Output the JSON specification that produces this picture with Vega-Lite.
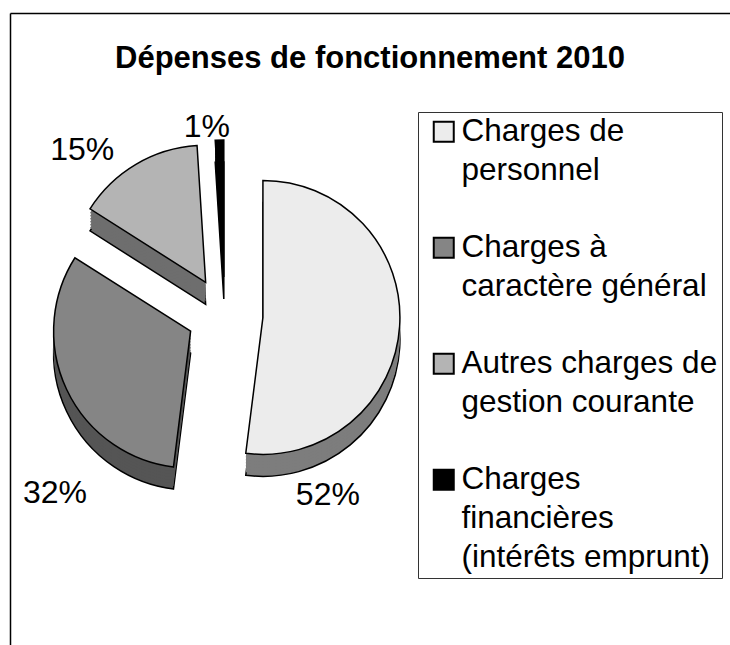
{
  "$schema": "https://vega.github.io/schema/vega-lite/v6.json",
  "width": 430,
  "height": 604,
  "autosize": {"type": "none"},
  "padding": {"left": 10, "top": 13, "right": 290, "bottom": 28},
  "background": "white",
  "title": {
    "text": "Dépenses de fonctionnement 2010",
    "font": "Liberation Sans",
    "fontSize": 31,
    "fontWeight": "bold",
    "color": "black",
    "anchor": "middle",
    "frame": "bounds",
    "baseline": "alphabetic",
    "offset": -86
  },
  "config": {
    "view": {"stroke": null},
    "font": "Liberation Sans"
  },
  "data": {
    "values": [
      {"poste": "Charges de personnel", "part": 52},
      {"poste": "Charges à caractère général", "part": 32},
      {"poste": "Autres charges de gestion courante", "part": 15},
      {"poste": "Charges financières (intérêts emprunt)", "part": 1}
    ]
  },
  "transform": [
    {"stack": "part", "groupby": [], "sort": [{"field": "part", "order": "descending"}], "as": ["p0", "p1"]},
    {"calculate": "(datum.p0 + datum.p1) / 2", "as": "mid"},
    {"calculate": "38 * sin(datum.mid * PI / 50)", "as": "dx"},
    {"calculate": "-38 * cos(datum.mid * PI / 50)", "as": "dy"},
    {"calculate": "datum.part + '%'", "as": "lbl"},
    {"calculate": "'côté ' + datum.poste", "as": "cote"}
  ],
  "layer": [
    {
      "mark": {"type": "point", "opacity": 0},
      "encoding": {
        "x": {"field": "part", "type": "quantitative", "scale": {"domain": [0, 100], "range": [0, 720]},
          "axis": {"orient": "top", "labels": false, "ticks": false, "grid": false, "title": null, "domainColor": "black", "domainWidth": 1.5}},
        "y": {"field": "part", "type": "quantitative", "scale": {"domain": [0, 100], "range": [0, 632]},
          "axis": {"orient": "left", "labels": false, "ticks": false, "grid": false, "title": null, "domainColor": "black", "domainWidth": 1.5}}
      }
    },
    {
      "transform": [{"calculate": "datum.dy + 22", "as": "dz"}],
      "mark": {"type": "arc", "outerRadius": 137, "stroke": "black", "strokeWidth": 1.5},
      "encoding": {
        "theta": {"field": "p0", "type": "quantitative", "scale": {"domain": [0, 100]}, "stack": null},
        "theta2": {"field": "p1"},
        "fill": {"field": "cote", "type": "nominal", "legend": null,
          "scale": {"domain": ["côté Charges de personnel", "côté Charges à caractère général", "côté Autres charges de gestion courante", "côté Charges financières (intérêts emprunt)"],
            "range": ["#7d7d7d", "#555555", "#6e6e6e", "#000000"]}},
        "xOffset": {"field": "dx", "type": "quantitative", "scale": null},
        "yOffset": {"field": "dz", "type": "quantitative", "scale": null}
      }
    },
    {
      "transform": [{"calculate": "datum.dy + 19", "as": "dz"}],
      "mark": {"type": "arc", "outerRadius": 137},
      "encoding": {
        "theta": {"field": "p0", "type": "quantitative", "scale": {"domain": [0, 100]}, "stack": null},
        "theta2": {"field": "p1"},
        "fill": {"field": "cote", "type": "nominal", "legend": null},
        "xOffset": {"field": "dx", "type": "quantitative", "scale": null},
        "yOffset": {"field": "dz", "type": "quantitative", "scale": null}
      }
    },
    {
      "transform": [{"calculate": "datum.dy + 16", "as": "dz"}],
      "mark": {"type": "arc", "outerRadius": 137},
      "encoding": {
        "theta": {"field": "p0", "type": "quantitative", "scale": {"domain": [0, 100]}, "stack": null},
        "theta2": {"field": "p1"},
        "fill": {"field": "cote", "type": "nominal", "legend": null},
        "xOffset": {"field": "dx", "type": "quantitative", "scale": null},
        "yOffset": {"field": "dz", "type": "quantitative", "scale": null}
      }
    },
    {
      "transform": [{"calculate": "datum.dy + 13", "as": "dz"}],
      "mark": {"type": "arc", "outerRadius": 137},
      "encoding": {
        "theta": {"field": "p0", "type": "quantitative", "scale": {"domain": [0, 100]}, "stack": null},
        "theta2": {"field": "p1"},
        "fill": {"field": "cote", "type": "nominal", "legend": null},
        "xOffset": {"field": "dx", "type": "quantitative", "scale": null},
        "yOffset": {"field": "dz", "type": "quantitative", "scale": null}
      }
    },
    {
      "transform": [{"calculate": "datum.dy + 10", "as": "dz"}],
      "mark": {"type": "arc", "outerRadius": 137},
      "encoding": {
        "theta": {"field": "p0", "type": "quantitative", "scale": {"domain": [0, 100]}, "stack": null},
        "theta2": {"field": "p1"},
        "fill": {"field": "cote", "type": "nominal", "legend": null},
        "xOffset": {"field": "dx", "type": "quantitative", "scale": null},
        "yOffset": {"field": "dz", "type": "quantitative", "scale": null}
      }
    },
    {
      "transform": [{"calculate": "datum.dy + 7", "as": "dz"}],
      "mark": {"type": "arc", "outerRadius": 137},
      "encoding": {
        "theta": {"field": "p0", "type": "quantitative", "scale": {"domain": [0, 100]}, "stack": null},
        "theta2": {"field": "p1"},
        "fill": {"field": "cote", "type": "nominal", "legend": null},
        "xOffset": {"field": "dx", "type": "quantitative", "scale": null},
        "yOffset": {"field": "dz", "type": "quantitative", "scale": null}
      }
    },
    {
      "transform": [{"calculate": "datum.dy + 4", "as": "dz"}],
      "mark": {"type": "arc", "outerRadius": 137},
      "encoding": {
        "theta": {"field": "p0", "type": "quantitative", "scale": {"domain": [0, 100]}, "stack": null},
        "theta2": {"field": "p1"},
        "fill": {"field": "cote", "type": "nominal", "legend": null},
        "xOffset": {"field": "dx", "type": "quantitative", "scale": null},
        "yOffset": {"field": "dz", "type": "quantitative", "scale": null}
      }
    },
    {
      "mark": {"type": "arc", "outerRadius": 137, "stroke": "black", "strokeWidth": 1.5},
      "encoding": {
        "theta": {"field": "p0", "type": "quantitative", "scale": {"domain": [0, 100]}, "stack": null},
        "theta2": {"field": "p1"},
        "color": {"field": "poste", "type": "nominal",
          "scale": {"domain": ["Charges de personnel", "Charges à caractère général", "Autres charges de gestion courante", "Charges financières (intérêts emprunt)"],
            "range": ["#ececec", "#858585", "#b4b4b4", "#000000"]},
          "legend": {
            "orient": "none", "legendX": 408, "legendY": 99,
            "title": null,
            "strokeColor": "#333333", "fillColor": "white", "padding": 4,
            "symbolType": "square", "symbolSize": 400, "symbolStrokeColor": "black", "symbolStrokeWidth": 2,
            "symbolOffset": 6,
            "labelFont": "Liberation Sans", "labelFontSize": 31.5, "labelColor": "black",
            "labelOffset": 2, "labelLimit": 400, "rowPadding": 44,
            "labelExpr": "datum.value == 'Charges de personnel' ? ['Charges de', 'personnel'] : datum.value == 'Charges à caractère général' ? ['Charges à', 'caractère général'] : datum.value == 'Autres charges de gestion courante' ? ['Autres charges de', 'gestion courante'] : ['Charges', 'financières', '(intérêts emprunt)']",
            "encode": {"labels": {"update": {"lineHeight": {"value": 39}}}}
          }},
        "xOffset": {"field": "dx", "type": "quantitative", "scale": null},
        "yOffset": {"field": "dy", "type": "quantitative", "scale": null}
      }
    },
    {
      "transform": [{"filter": "datum.part == 52"}],
      "mark": {"type": "text", "radius": 207, "thetaOffset": 0.988, "fontSize": 32, "font": "Liberation Sans", "color": "black"},
      "encoding": {
        "theta": {"field": "mid", "type": "quantitative", "scale": {"domain": [0, 100]}, "stack": null},
        "text": {"field": "lbl"}
      }
    },
    {
      "transform": [{"filter": "datum.part == 32"}],
      "mark": {"type": "text", "radius": 246, "thetaOffset": -0.368, "fontSize": 32, "font": "Liberation Sans", "color": "black"},
      "encoding": {
        "theta": {"field": "mid", "type": "quantitative", "scale": {"domain": [0, 100]}, "stack": null},
        "text": {"field": "lbl"}
      }
    },
    {
      "transform": [{"filter": "datum.part == 15"}],
      "mark": {"type": "text", "radius": 218, "thetaOffset": -0.18, "fontSize": 32, "font": "Liberation Sans", "color": "black"},
      "encoding": {
        "theta": {"field": "mid", "type": "quantitative", "scale": {"domain": [0, 100]}, "stack": null},
        "text": {"field": "lbl"}
      }
    },
    {
      "transform": [{"filter": "datum.part == 1"}],
      "mark": {"type": "text", "radius": 189, "thetaOffset": -0.065, "fontSize": 32, "font": "Liberation Sans", "color": "black"},
      "encoding": {
        "theta": {"field": "mid", "type": "quantitative", "scale": {"domain": [0, 100]}, "stack": null},
        "text": {"field": "lbl"}
      }
    }
  ]
}
